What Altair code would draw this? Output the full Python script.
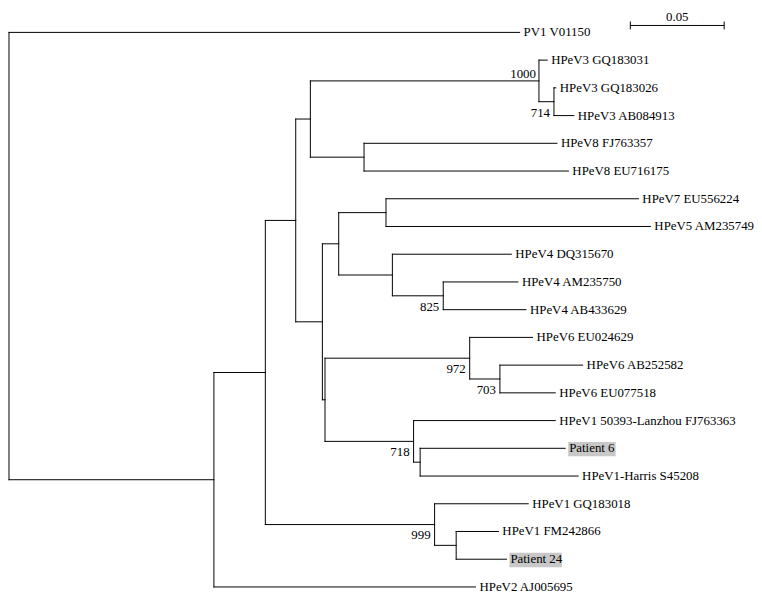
import altair as alt
import pandas as pd

# ---------------- data ----------------
leaf_names = [
    "PV1 V01150",
    "HPeV3 GQ183031", "HPeV3 GQ183026", "HPeV3 AB084913",
    "HPeV8 FJ763357", "HPeV8 EU716175",
    "HPeV7 EU556224", "HPeV5 AM235749",
    "HPeV4 DQ315670", "HPeV4 AM235750", "HPeV4 AB433629",
    "HPeV6 EU024629", "HPeV6 AB252582", "HPeV6 EU077518",
    "HPeV1 50393-Lanzhou FJ763363", "Patient 6", "HPeV1-Harris S45208",
    "HPeV1 GQ183018", "HPeV1 FM242866", "Patient 24",
    "HPeV2 AJ005695",
]
# distance from the root (substitutions per site)
leaf_depths = [
    0.2721,
    0.2868, 0.2914, 0.3010,
    0.2920, 0.2981,
    0.3354, 0.3418,
    0.2677, 0.2712, 0.2755,
    0.2790, 0.3057, 0.2911,
    0.2911, 0.2964, 0.3033,
    0.2767, 0.2608, 0.2651,
    0.2486,
]
leaf_parents = [
    "root",
    "N1000", "N714", "N714",
    "N8", "N8",
    "N75", "N75",
    "N4", "N825", "N825",
    "N972", "N703", "N703",
    "N718", "NH", "NH",
    "N999", "NI", "NI",
    "Nin",
]

node_names = ["root", "Nin", "NB", "NC", "ND", "N1000", "N714", "N8", "NE", "NF",
              "N75", "N4", "N825", "NG", "N972", "N703", "N718", "NH", "N999", "NI"]
node_depths = [0.0, 0.1092, 0.1366, 0.1528, 0.1606, 0.2824, 0.2904, 0.1892, 0.1670, 0.1757,
               0.2009, 0.2043, 0.2314, 0.1684, 0.2455, 0.2616, 0.2156, 0.2191, 0.2268, 0.2383]
node_parents = ["", "root", "Nin", "NB", "NC", "ND", "N1000", "ND", "NC", "NE",
                "NF", "NF", "N4", "NE", "NG", "N972", "NG", "N718", "NB", "N999"]
node_bootstrap = ["", "", "", "", "", "1000", "714", "", "", "",
                  "", "", "825", "", "972", "703", "718", "", "999", ""]

highlighted = ["Patient 6", "Patient 24"]

scale_bar_start = 0.3311
scale_bar_length = 0.05
scale_bar_label = "0.05"

# ---------------- build tree geometry ----------------
depth = {}
parent = {}
for n, d, p in zip(leaf_names, leaf_depths, leaf_parents):
    depth[n] = d
    parent[n] = p
for n, d, p in zip(node_names, node_depths, node_parents):
    depth[n] = d
    parent[n] = p

children = {n: [] for n in node_names}
for n in leaf_names + node_names:
    if parent[n]:
        children[parent[n]].append(n)

ypos = {n: i for i, n in enumerate(leaf_names)}


def get_y(n):
    if n in ypos:
        return ypos[n]
    ys = [get_y(c) for c in children[n]]
    ypos[n] = (min(ys) + max(ys)) / 2
    return ypos[n]


for n in node_names:
    get_y(n)

segs = []
for n in leaf_names + node_names:
    if parent[n]:
        segs.append({"x": depth[parent[n]], "x2": depth[n], "y": ypos[n], "y2": ypos[n]})
for n in node_names:
    cy = [ypos[c] for c in children[n]]
    segs.append({"x": depth[n], "x2": depth[n], "y": min(cy), "y2": max(cy)})
seg_df = pd.DataFrame(segs)

leaf_df = pd.DataFrame({"name": leaf_names, "x": leaf_depths,
                        "y": [ypos[n] for n in leaf_names]})

boot_rows = [{"x": depth[n], "y": ypos[n], "label": b}
             for n, b in zip(node_names, node_bootstrap) if b]
boot_df = pd.DataFrame(boot_rows)
above_df = boot_df[boot_df["label"] == "1000"]
below_df = boot_df[boot_df["label"] != "1000"]

bar_df = pd.DataFrame({"x": [scale_bar_start], "x2": [scale_bar_start + scale_bar_length],
                       "y": [0], "label": [scale_bar_label]})
bar_ticks_df = pd.DataFrame({"x": [scale_bar_start, scale_bar_start + scale_bar_length],
                             "y": [0, 0]})
bar_text_df = pd.DataFrame({"x": [scale_bar_start + scale_bar_length / 2], "y": [0],
                            "label": [scale_bar_label]})

# ---------------- chart ----------------
FONT = "Liberation Serif"
xs = alt.Scale(domain=[0, 0.3418], range=[1, 649.3])
ys = alt.Scale(domain=[0, 20], range=[21.5, 582])
X = lambda f="x": alt.X(f"{f}:Q", scale=xs, axis=None)
Y = lambda f="y": alt.Y(f"{f}:Q", scale=ys, axis=None)

lines = alt.Chart(seg_df).mark_rule(color="#000000", strokeWidth=1, strokeCap="square").encode(
    x=X(), x2="x2:Q", y=Y(), y2="y2:Q")

box_widths = {"Patient 6": 48, "Patient 24": 53}
boxes = []
for name in highlighted:
    d = leaf_df[leaf_df["name"] == name]
    boxes.append(
        alt.Chart(d).mark_rect(color="#c8c8c8", xOffset=3, x2Offset=3 + box_widths[name],
                               yOffset=-6.5, y2Offset=8).encode(
            x=X(), x2="x:Q", y=Y(), y2="y:Q"))

leaf_text = alt.Chart(leaf_df).mark_text(
    align="left", baseline="middle", dx=4, font=FONT, fontSize=13, color="#000000").encode(
    x=X(), y=Y(), text="name:N")

boot_below = alt.Chart(below_df).mark_text(
    align="right", baseline="alphabetic", dx=-4, dy=15, font=FONT, fontSize=13, color="#000000").encode(
    x=X(), y=Y(), text="label:N")
boot_above = alt.Chart(above_df).mark_text(
    align="right", baseline="alphabetic", dx=-3, dy=-3, font=FONT, fontSize=13, color="#000000").encode(
    x=X(), y=Y(), text="label:N")

bar = alt.Chart(bar_df).mark_rule(color="#000000", strokeWidth=1, yOffset=-7).encode(
    x=X(), x2="x2:Q", y=Y())
bar_ticks = alt.Chart(bar_ticks_df).mark_rule(color="#000000", strokeWidth=1,
                                              yOffset=-11, y2Offset=-3).encode(
    x=X(), y=Y(), y2="y:Q")
bar_text = alt.Chart(bar_text_df).mark_text(
    align="center", baseline="alphabetic", dy=-12, font=FONT, fontSize=13, color="#000000").encode(
    x=X(), y=Y(), text="label:N")

chart = alt.layer(lines, *boxes, leaf_text, boot_below, boot_above, bar, bar_ticks, bar_text).properties(
    width=754, height=589, padding=0, autosize=alt.AutoSizeParams(type="none"),
    background="white"
).configure_view(stroke=None)

chart.save("out.html", embed_options={"renderer": "svg", "actions": False})
